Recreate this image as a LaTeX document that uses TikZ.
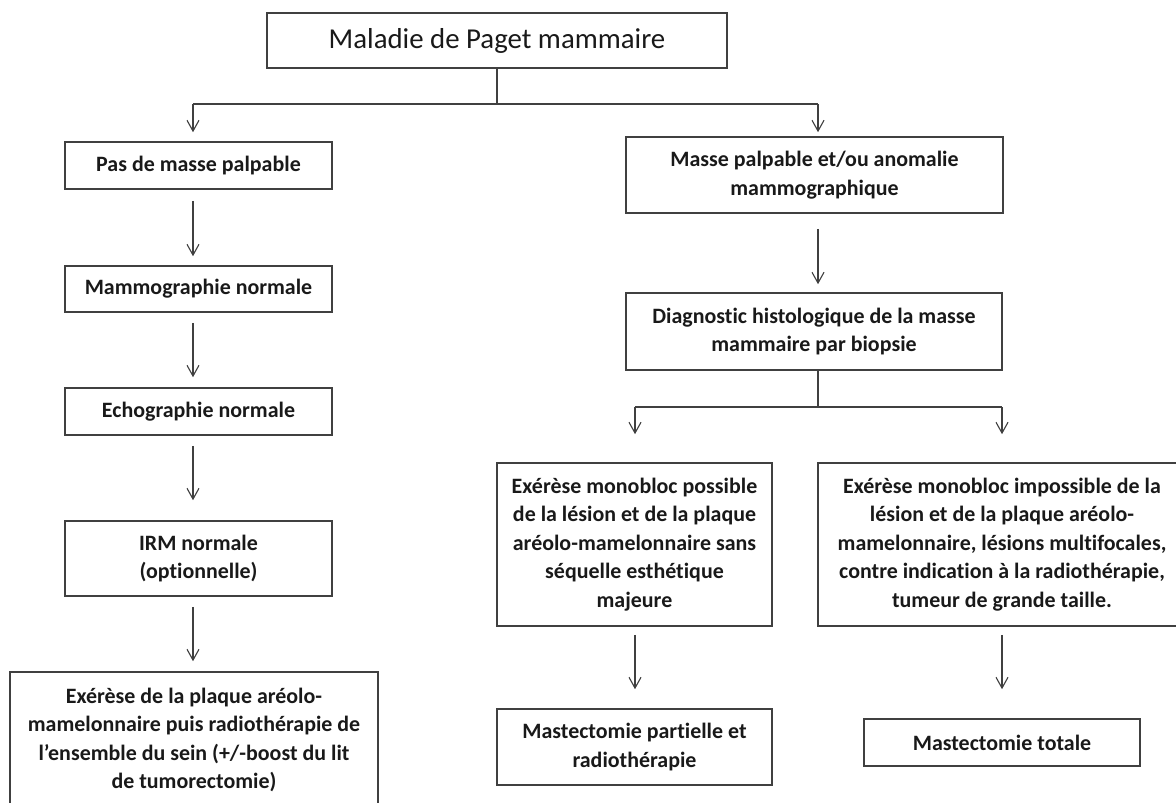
\documentclass[tikz,border=0pt]{standalone}
\usepackage{fontspec}
\setmainfont{Carlito}[Ligatures = NoCommon]
\usepackage{xcolor}
\usetikzlibrary{arrows.meta,positioning}

\begin{document}
\begin{tikzpicture}[x = 0.025cm, y = -0.025cm,
		box_node/.style = {rectangle, draw = black!75, line width = 1.1pt, align = center, inner sep = 0pt, text = black!90, font = \bfseries\fontsize{15.6}{20.3}\selectfont},
		title_node/.style = {box_node, font = \fontsize{20.5}{24}\selectfont},
		plain_line/.style = {draw = black!75, line width = 0.8pt},
		arrow_line/.style = {plain_line, -{Straight Barb[length = 0.27cm, width = 0.3cm]}},
		]
		\useasboundingbox (0,0) rectangle (1176,802);
		
		%titre
		\node[title_node, minimum width = 11.5cm, minimum height = 1.375cm](titre) at (497,40.5){Maladie de Paget mammaire};
		\coordinate (branche_g) at (193,104);
		\coordinate (branche_d) at (818,104);
		\draw[plain_line] (titre.south) -- (titre.south |- branche_g);
		\draw[plain_line] (branche_g) -- (branche_d);
		
		%gauche
		\node[box_node, minimum width = 6.675cm, minimum height = 1.175cm](pasmasse) at (198.5,165.5){Pas de masse palpable};
		\node[box_node, minimum width = 6.675cm, minimum height = 1.15cm](mammo) at (198.5,289){Mammographie normale};
		\node[box_node, minimum width = 6.675cm, minimum height = 1.175cm](echo) at (198.5,411.5){Echographie normale};
		\node[box_node, minimum width = 6.675cm, minimum height = 1.875cm](irm) at (198.5,558.5){IRM normale\\(optionnelle)};
		\node[box_node, minimum width = 9.2cm, minimum height = 3.4cm](exerese) at (194,740){Exérèse de la plaque aréolo-\\mamelonnaire puis radiothérapie de\\l’ensemble du sein (+/-boost du lit\\de tumorectomie)};
		
		\draw[arrow_line, shorten >= 0.225cm] (branche_g) -- (branche_g |- pasmasse.north);
		\draw[arrow_line, shorten <= 0.275cm, shorten >= 0.225cm] (pasmasse.south -| branche_g) -- (mammo.north -| branche_g);
		\draw[arrow_line, shorten <= 0.25cm, shorten >= 0.25cm] (mammo.south -| branche_g) -- (echo.north -| branche_g);
		\draw[arrow_line, shorten <= 0.25cm, shorten >= 0.5cm] (echo.south -| branche_g) -- (irm.north -| branche_g);
		\draw[arrow_line, shorten <= 0.25cm, shorten >= 0.25cm] (irm.south -| branche_g) -- (exerese.north -| branche_g);
		
		%droite
		\node[box_node, minimum width = 9.425cm, minimum height = 1.9cm](masse) at (814.5,175){Masse palpable et/ou anomalie\\mammographique};
		\node[box_node, minimum width = 9.4cm, minimum height = 1.925cm](diag) at (814,331.5){Diagnostic histologique de la masse\\mammaire par biopsie};
		\coordinate (branche2_g) at (635,407);
		\coordinate (branche2_d) at (1002,407);
		
		\draw[arrow_line, shorten >= 0.1cm] (branche_d) -- (branche_d |- masse.north);
		\draw[arrow_line, shorten <= 0.375cm, shorten >= 0.2cm] (masse.south -| branche_d) -- (diag.north -| branche_d);
		\draw[plain_line] (diag.south -| branche_d) -- (branche_d |- branche2_g);
		\draw[plain_line] (branche2_g) -- (branche2_d);
		
		\node[box_node, minimum width = 6.875cm, minimum height = 4.075cm](possible) at (634.5,544.5){Exérèse monobloc possible\\de la lésion et de la plaque\\aréolo-mamelonnaire sans\\séquelle esthétique\\majeure};
		\node[box_node, minimum width = 9.2cm, minimum height = 4.075cm](impossible) at (1002,544.5){Exérèse monobloc impossible de la\\lésion et de la plaque aréolo-\\mamelonnaire, lésions multifocales,\\contre indication à la radiothérapie,\\tumeur de grande taille.};
		\node[box_node, minimum width = 6.875cm, minimum height = 1.9cm](partielle) at (634.5,747){Mastectomie partielle et\\radiothérapie};
		\node[box_node, minimum width = 6.9cm, minimum height = 1.175cm](totale) at (1002,742.5){Mastectomie totale};
		
		\draw[arrow_line, shorten >= 0.7cm] (branche2_g) -- (branche2_g |- possible.north);
		\draw[arrow_line, shorten >= 0.7cm] (branche2_d) -- (branche2_d |- impossible.north);
		\draw[arrow_line, shorten <= 0.2cm, shorten >= 0.475cm] (possible.south -| branche2_g) -- (partielle.north -| branche2_g);
		\draw[arrow_line, shorten <= 0.2cm, shorten >= 0.725cm] (impossible.south) -- (totale.north);
		
\end{tikzpicture}
\end{document}
